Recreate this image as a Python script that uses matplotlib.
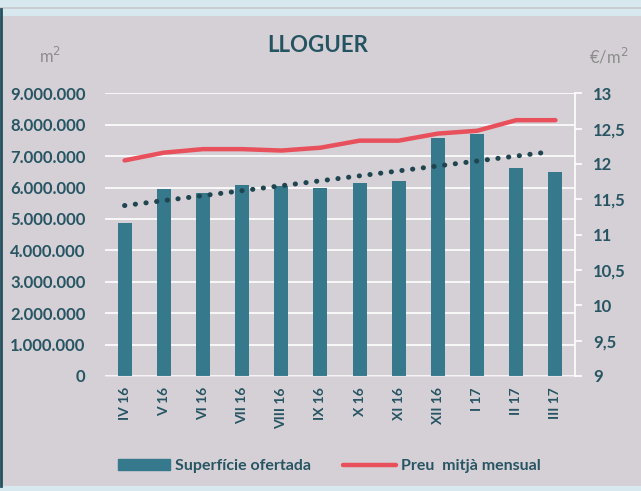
import numpy as np
import matplotlib.pyplot as plt
from matplotlib.patches import Rectangle
from matplotlib.lines import Line2D

months = ["IV 16", "V 16", "VI 16", "VII 16", "VIII 16", "IX 16",
          "X 16", "XI 16", "XII 16", "I 17", "II 17", "III 17"]
superficie = [4870000, 5950000, 5840000, 6090000, 6040000, 5970000,
              6160000, 6200000, 7570000, 7720000, 6630000, 6480000]
preu = [12.05, 12.16, 12.21, 12.21, 12.19, 12.23,
        12.33, 12.33, 12.43, 12.47, 12.62, 12.62]

plt.rcParams["font.family"] = ["Lato", "DejaVu Sans"]

bg = "#d5d0d6"
blue_bg = "#d8e8ef"
bar_col = "#36788c"
red = "#e8505b"
txt = "#275563"

W, H = 641, 491
fig = plt.figure(figsize=(W / 100, H / 100), dpi=100)
fig.patch.set_facecolor(blue_bg)
fig.patches.append(Rectangle((0, 5 / H), 1, 1 - 21 / H, transform=fig.transFigure,
                             facecolor=bg, edgecolor="none", zorder=-5))
fig.lines.append(Line2D([0, 1], [1 - 7.5 / H] * 2, transform=fig.transFigure,
                        color="#c8c8cc", lw=1.2, zorder=-4))
fig.lines.append(Line2D([1 / W] * 2, [5 / H, 1 - 9 / H], transform=fig.transFigure,
                        color="#24505e", lw=2, zorder=-4))

x0, x1, y0, y1 = 105, 575, 376, 93.3
ax = fig.add_axes([x0 / W, 1 - y0 / H, (x1 - x0) / W, (y0 - y1) / H])
ax.set_facecolor("none")

x = np.arange(len(months))
ax.bar(x, superficie, width=0.36, color=bar_col, zorder=2)
coef = np.polyfit(x, superficie, 1)
xt = np.linspace(0, 10.75, 40)
ax.plot(xt, np.polyval(coef, xt), linestyle=(0, (0.05, 2.1)), lw=3.6,
        dash_capstyle="round", color="#1f4550", zorder=3)

ax.set_xlim(-0.5, len(months) - 0.5)
ax.set_ylim(0, 9000000)
ax.set_yticks(np.arange(0, 9000001, 1000000))
ax.set_yticklabels([f"{v:,}".replace(",", ".") for v in range(0, 9000001, 1000000)],
                   fontsize=12, fontweight="bold", color=txt)
ax.set_xticks(x)
ax.set_xticklabels(months, rotation=90, fontsize=10, fontweight="bold", color=txt)
ax.grid(axis="y", color="white", lw=1.2, zorder=1)
ax.tick_params(axis="both", length=0, pad=8)
ax.tick_params(axis="y", pad=14)
for s in ax.spines.values():
    s.set_visible(False)
ax.spines["bottom"].set_visible(True)
ax.spines["bottom"].set_color("#e4e0e4")

ax2 = ax.twinx()
ax2.plot(x, preu, color=red, lw=3.2, solid_capstyle="round", zorder=4)
ax2.set_ylim(9, 13)
ax2.set_yticks(np.arange(9, 13.01, 0.5))
ax2.set_yticklabels([f"{v:g}".replace(".", ",") for v in np.arange(9, 13.01, 0.5)],
                    fontsize=12, fontweight="bold", color=txt)
for s in ["top", "left", "bottom"]:
    ax2.spines[s].set_visible(False)
ax2.spines["right"].set_color("white")
ax2.spines["right"].set_linewidth(1.2)
ax2.tick_params(axis="y", direction="out", length=5, width=1.2, color="white", pad=8)

fig.text(318 / W, 1 - 45 / H, "LLOGUER", ha="center", va="center",
         fontsize=16, fontweight="bold", color="#245462")
fig.text(50 / W, 1 - 56 / H, "m$^2$", ha="center", va="center", fontsize=12, color="#8c8c8c")
fig.text(609 / W, 1 - 56 / H, "€/m$^2$", ha="center", va="center", fontsize=12, color="#8c8c8c")

handles = [Rectangle((0, 0), 1, 1, color=bar_col),
           Line2D([0], [0], color=red, lw=3.2, solid_capstyle="round")]
fig.legend(handles, ["Superfície ofertada", "Preu  mitjà mensual"], loc="center",
           bbox_to_anchor=(329 / W, 1 - 466 / H), ncol=2, frameon=False,
           prop={"weight": "bold", "size": 11.5}, labelcolor=txt,
           handlelength=3.3, handletextpad=0.3, columnspacing=2.0)

fig.savefig("out.png", dpi=100, facecolor=fig.get_facecolor())
